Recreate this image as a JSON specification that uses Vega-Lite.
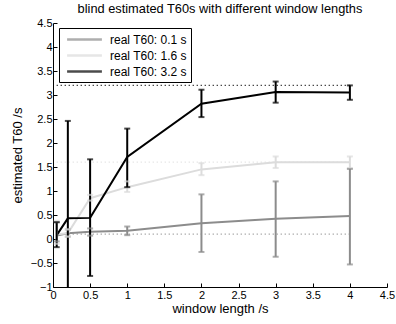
{
  "$schema": "https://vega.github.io/schema/vega-lite/v6.json",
  "width": 334,
  "height": 264,
  "autosize": {"type": "none"},
  "padding": {"left": 53, "top": 23, "right": 9, "bottom": 37},
  "background": "white",
  "title": {"text": "blind estimated T60s with different window lengths", "fontSize": 12.8, "font": "Liberation Sans", "fontWeight": "normal", "offset": 1, "anchor": "middle", "color": "black"},
  "datasets": {
    "est": [
      {"series": "real T60: 0.1 s", "x": 0.05, "y": 0.07, "lo": -0.05, "hi": 0.35},
      {"series": "real T60: 0.1 s", "x": 0.2, "y": 0.12, "lo": 0.05, "hi": 0.2},
      {"series": "real T60: 0.1 s", "x": 0.5, "y": 0.15, "lo": 0.07, "hi": 0.22},
      {"series": "real T60: 0.1 s", "x": 1, "y": 0.17, "lo": 0.08, "hi": 0.26},
      {"series": "real T60: 0.1 s", "x": 2, "y": 0.33, "lo": -0.27, "hi": 0.93},
      {"series": "real T60: 0.1 s", "x": 3, "y": 0.42, "lo": -0.37, "hi": 1.2},
      {"series": "real T60: 0.1 s", "x": 4, "y": 0.48, "lo": -0.53, "hi": 1.46},
      {"series": "real T60: 1.6 s", "x": 0.05, "y": 0.1, "lo": -0.1, "hi": 0.38},
      {"series": "real T60: 1.6 s", "x": 0.2, "y": 0.12, "lo": 0.05, "hi": 0.2},
      {"series": "real T60: 1.6 s", "x": 0.5, "y": 0.85, "lo": 0.8, "hi": 0.92},
      {"series": "real T60: 1.6 s", "x": 1, "y": 1.08, "lo": 0.98, "hi": 1.2},
      {"series": "real T60: 1.6 s", "x": 2, "y": 1.45, "lo": 1.33, "hi": 1.58},
      {"series": "real T60: 1.6 s", "x": 3, "y": 1.6, "lo": 1.48, "hi": 1.72},
      {"series": "real T60: 1.6 s", "x": 4, "y": 1.6, "lo": 1.48, "hi": 1.72},
      {"series": "real T60: 3.2 s", "x": 0.05, "y": 0.08, "lo": -0.17, "hi": 0.35},
      {"series": "real T60: 3.2 s", "x": 0.2, "y": 0.43, "lo": -1.1, "hi": 2.46},
      {"series": "real T60: 3.2 s", "x": 0.5, "y": 0.44, "lo": -0.77, "hi": 1.66},
      {"series": "real T60: 3.2 s", "x": 1, "y": 1.71, "lo": 1.08, "hi": 2.3},
      {"series": "real T60: 3.2 s", "x": 2, "y": 2.82, "lo": 2.54, "hi": 3.11},
      {"series": "real T60: 3.2 s", "x": 3, "y": 3.06, "lo": 2.84, "hi": 3.28},
      {"series": "real T60: 3.2 s", "x": 4, "y": 3.05, "lo": 2.9, "hi": 3.2}
    ],
    "ref": [
      {"series": "real T60: 0.1 s", "x": 0.05, "x2": 4, "y": 0.1},
      {"series": "real T60: 1.6 s", "x": 0.05, "x2": 4, "y": 1.6},
      {"series": "real T60: 3.2 s", "x": 0.05, "x2": 4, "y": 3.2}
    ]
  },
  "config": {
    "font": "Liberation Sans",
    "view": {"stroke": null},
    "axis": {"grid": false, "domain": true, "domainColor": "black", "domainWidth": 1, "tickSize": -4, "tickColor": "black", "labelColor": "black", "labelFontSize": 11, "titleFontSize": 13, "titleFontWeight": "normal", "titleColor": "black", "labelFont": "Liberation Sans", "titleFont": "Liberation Sans", "labelOverlap": false, "labelFlush": false}
  },
  "encoding": {
    "x": {"field": "x", "type": "quantitative", "scale": {"domain": [0, 4.5], "nice": false}, "axis": {"values": [0, 0.5, 1, 1.5, 2, 2.5, 3, 3.5, 4, 4.5], "tickCount": 10, "format": "~g", "labelOverlap": false, "title": "window length /s", "titlePadding": 2, "labelPadding": 6}},
    "color": {"field": "series", "type": "nominal", "scale": {"domain": ["real T60: 0.1 s", "real T60: 1.6 s", "real T60: 3.2 s"], "range": ["#8c8c8c", "#dcdcdc", "#000000"]},
      "legend": {"title": null, "orient": "none", "legendX": 6, "legendY": 5, "symbolType": "M-2.9,0H2.9", "symbolStrokeWidth": 2.5, "symbolSize": 144, "symbolDash": [1, 0], "symbolFillColor": "transparent", "labelFontSize": 12, "labelColor": "black", "fillColor": "white", "strokeColor": "black", "padding": 4, "rowPadding": 2, "symbolOffset": 14, "labelOffset": 18}}
  },
  "layer": [
    {
      "data": {"name": "ref"},
      "mark": {"type": "rule", "strokeDash": [1, 3], "strokeWidth": 1.2},
      "encoding": {
        "x2": {"field": "x2"},
        "y": {"field": "y", "type": "quantitative", "scale": {"domain": [-1, 4.5], "nice": false, "zero": false}, "axis": {"values": [-1, -0.5, 0, 0.5, 1, 1.5, 2, 2.5, 3, 3.5, 4, 4.5], "tickCount": 12, "format": "~g", "labelOverlap": false, "title": "estimated T60 /s", "titlePadding": 6, "labelPadding": 5}}
      }
    },
    {
      "data": {"name": "est"},
      "mark": {"type": "line", "strokeWidth": 2, "clip": true},
      "encoding": {
        "y": {"field": "y", "type": "quantitative", "axis": {"values": [-1, -0.5, 0, 0.5, 1, 1.5, 2, 2.5, 3, 3.5, 4, 4.5], "tickCount": 12, "format": "~g", "labelOverlap": false, "title": "estimated T60 /s", "titlePadding": 6, "labelPadding": 5}},
        "order": {"field": "x", "type": "quantitative"}
      }
    },
    {
      "data": {"name": "est"},
      "mark": {"type": "rule", "strokeWidth": 2, "clip": true},
      "encoding": {
        "y": {"field": "lo", "type": "quantitative", "axis": {"values": [-1, -0.5, 0, 0.5, 1, 1.5, 2, 2.5, 3, 3.5, 4, 4.5], "tickCount": 12, "format": "~g", "labelOverlap": false, "title": "estimated T60 /s", "titlePadding": 6, "labelPadding": 5}},
        "y2": {"field": "hi"}
      }
    },
    {
      "data": {"name": "est"},
      "mark": {"type": "tick", "orient": "horizontal", "size": 6, "thickness": 2, "clip": true},
      "encoding": {
        "y": {"field": "lo", "type": "quantitative", "axis": {"values": [-1, -0.5, 0, 0.5, 1, 1.5, 2, 2.5, 3, 3.5, 4, 4.5], "tickCount": 12, "format": "~g", "labelOverlap": false, "title": "estimated T60 /s", "titlePadding": 6, "labelPadding": 5}}
      }
    },
    {
      "data": {"name": "est"},
      "mark": {"type": "tick", "orient": "horizontal", "size": 6, "thickness": 2, "clip": true},
      "encoding": {
        "y": {"field": "hi", "type": "quantitative", "axis": {"values": [-1, -0.5, 0, 0.5, 1, 1.5, 2, 2.5, 3, 3.5, 4, 4.5], "tickCount": 12, "format": "~g", "labelOverlap": false, "title": "estimated T60 /s", "titlePadding": 6, "labelPadding": 5}}
      }
    }
  ]
}
